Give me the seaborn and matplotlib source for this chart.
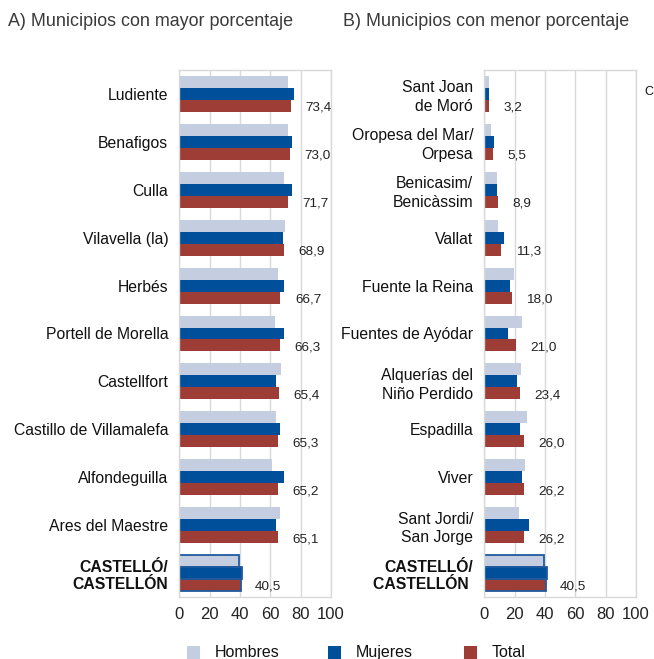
import numpy as np
import pandas as pd
import matplotlib
matplotlib.use("Agg")
import matplotlib.pyplot as plt
import seaborn as sns
from matplotlib.patches import Rectangle

# ---------------- data ----------------
series = ["Hombres", "Mujeres", "Total"]

cats_a = ["Ludiente", "Benafigos", "Culla", "Vilavella (la)", "Herbés",
          "Portell de Morella", "Castellfort", "Castillo de Villamalefa",
          "Alfondeguilla", "Ares del Maestre", "CASTELLÓ/\nCASTELLÓN"]
hombres_a = [71.5, 71.7, 69.3, 69.8, 65.1, 63.4, 66.9, 63.8, 61.4, 66.5, 39.6]
mujeres_a = [75.7, 74.6, 74.6, 68.2, 68.9, 69.3, 63.8, 66.5, 68.9, 63.8, 41.1]
total_a = [73.4, 73.0, 71.7, 68.9, 66.7, 66.3, 65.4, 65.3, 65.2, 65.1, 40.5]

cats_b = ["Sant Joan\nde Moró", "Oropesa del Mar/\nOrpesa", "Benicasim/\nBenicàssim",
          "Vallat", "Fuente la Reina", "Fuentes de Ayódar", "Alquerías del\nNiño Perdido",
          "Espadilla", "Viver", "Sant Jordi/\nSan Jorge", "CASTELLÓ/\nCASTELLÓN "]
hombres_b = [3.0, 4.5, 8.7, 8.9, 19.3, 24.8, 24.4, 28.3, 27.0, 22.6, 39.6]
mujeres_b = [3.3, 6.5, 8.7, 12.9, 16.7, 15.6, 21.9, 23.5, 24.8, 29.7, 41.1]
total_b = [3.2, 5.5, 8.9, 11.3, 18.0, 21.0, 23.4, 26.0, 26.2, 26.2, 40.5]

titles = ["A) Municipios con mayor porcentaje", "B) Municipios con menor porcentaje"]
xticks = [0, 20, 40, 60, 80, 100]

colors = {"Hombres": "#C5CDE0", "Mujeres": "#004F9A", "Total": "#9E3D35"}
edge_highlight = "#1F5A9E"

# ---------------- style ----------------
sns.set_theme(style="white")
plt.rcParams["font.family"] = ["Liberation Sans", "DejaVu Sans"]

W, H = 654, 659
fig = plt.figure(figsize=(W / 100, H / 100), dpi=100)


def px_axes(x0, x1, y0, y1):
    return fig.add_axes([x0 / W, 1 - y1 / H, (x1 - x0) / W, (y1 - y0) / H])


def make_df(cats, h, m, t):
    rows = []
    for c, a, b, d in zip(cats, h, m, t):
        rows.append((c, "Hombres", a))
        rows.append((c, "Mujeres", b))
        rows.append((c, "Total", d))
    return pd.DataFrame(rows, columns=["Municipio", "Serie", "Valor"])


panels = [
    (px_axes(179.3, 331.0, 70, 597), cats_a, hombres_a, mujeres_a, total_a),
    (px_axes(484.3, 635.8, 70, 597), cats_b, hombres_b, mujeres_b, total_b),
]

for ax, cats, h, m, t in panels:
    df = make_df(cats, h, m, t)
    sns.barplot(data=df, y="Municipio", x="Valor", hue="Serie", order=cats,
                hue_order=series, palette=colors, orient="h", width=0.75,
                errorbar=None, legend=False, ax=ax, saturation=1,
                linewidth=0)
    ax.set_xlim(0, 100)
    ax.set_ylim(len(cats) - 0.5, -0.5)
    ax.set_xticks(xticks)
    ax.set_xticklabels([str(v) for v in xticks], fontsize=12, color="#222222")
    ax.xaxis.grid(True, color="#D9D9D9", linewidth=1)
    ax.yaxis.grid(False)
    ax.set_axisbelow(True)
    for s in ax.spines.values():
        s.set_color("#D9D9D9")
        s.set_linewidth(1)
    ax.tick_params(axis="both", length=0)
    ax.tick_params(axis="y", pad=8)
    ax.tick_params(axis="x", pad=7)
    ax.set_xlabel("")
    ax.set_ylabel("")
    for lab in ax.get_yticklabels():
        lab.set_fontsize(11.3)
        lab.set_color("#111111")
        lab.set_linespacing(1.3)
        if lab.get_text().startswith("CASTELL"):
            lab.set_fontweight("bold")
            lab.set_linespacing(1.2)

    # highlight the provincial total group
    last = len(cats) - 1
    for cont in ax.containers:
        p = cont.patches[last]
        p.set_edgecolor(edge_highlight)
        p.set_linewidth(1.3)

    # value labels next to the Total bars
    for p, v in zip(ax.containers[2].patches, t):
        y = p.get_y() + p.get_height() / 2 + 0.04
        ax.text(p.get_width() + 9.5, y, f"{v:.1f}".replace(".", ","),
                fontsize=9.7, color="#222222", va="center", ha="left")

fig.text(8.5 / W, 1 - 21 / H, titles[0], fontsize=12.9, color="#3a3a3a", va="center", ha="left")
fig.text(343 / W, 1 - 21 / H, titles[1], fontsize=12.9, color="#3a3a3a", va="center", ha="left")

# label of a following panel, at the right edge
fig.text(653 / W, 1 - 92 / H, "C", fontsize=9, color="#111111", va="center", ha="right")

# legend: squares and labels sharing one baseline
leg_sq_x = [187, 328, 464]
leg_tx_x = [215, 356, 492]
for s, sx, tx in zip(series, leg_sq_x, leg_tx_x):
    fig.patches.append(Rectangle((sx / W, 1 - 659 / H + 0.0), 13 / W, 13 / H,
                                 transform=fig.transFigure, facecolor=colors[s],
                                 edgecolor="none"))
    fig.text(tx / W, 1 - 657 / H, s, fontsize=11.5, color="#111111",
             va="baseline", ha="left")

fig.savefig("out.png", dpi=100)
